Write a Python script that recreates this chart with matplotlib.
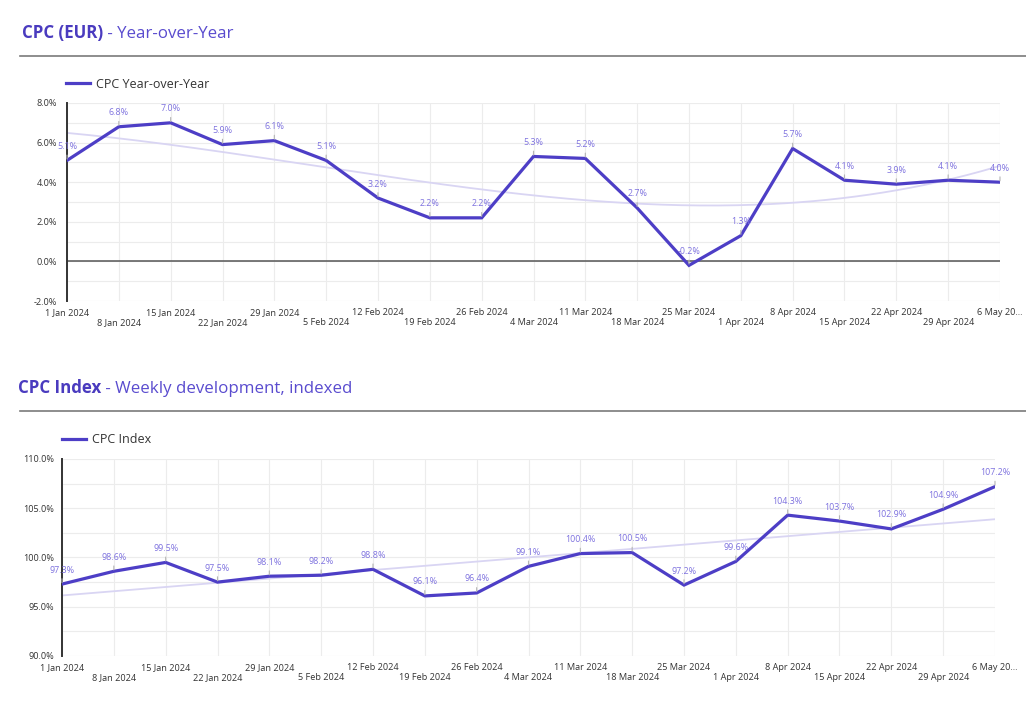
import numpy as np
import matplotlib.pyplot as plt
from matplotlib.lines import Line2D

plt.rcParams['font.family'] = ['Open Sans', 'DejaVu Sans']

# weekly dates
weeks = ['1 Jan 2024', '8 Jan 2024', '15 Jan 2024', '22 Jan 2024', '29 Jan 2024',
         '5 Feb 2024', '12 Feb 2024', '19 Feb 2024', '26 Feb 2024', '4 Mar 2024',
         '11 Mar 2024', '18 Mar 2024', '25 Mar 2024', '1 Apr 2024', '8 Apr 2024',
         '15 Apr 2024', '22 Apr 2024', '29 Apr 2024', '6 May 20...']

yoy = [5.1, 6.8, 7.0, 5.9, 6.1, 5.1, 3.2, 2.2, 2.2, 5.3, 5.2, 2.7, -0.2, 1.3, 5.7, 4.1, 3.9, 4.1, 4.0]
index = [97.3, 98.6, 99.5, 97.5, 98.1, 98.2, 98.8, 96.1, 96.4, 99.1, 100.4, 100.5, 97.2, 99.6,
         104.3, 103.7, 102.9, 104.9, 107.2]

W, H = 1026, 723
LINE = '#4d3ec6'
TREND = '#d9d5f3'
LABEL = '#7e72df'
GRID = '#ececec'

fig = plt.figure(figsize=(W / 100, H / 100), dpi=100)


def px_axes(left, top, right, bottom):
    return fig.add_axes([left / W, 1 - bottom / H, (right - left) / W, (bottom - top) / H])


def title(x, y, bold, rest):
    t1 = fig.text(x / W, 1 - y / H, bold, fontsize=12.2, fontweight='bold', color='#4a3bbf', va='baseline')
    fig.canvas.draw()
    bb = t1.get_window_extent()
    fig.text(bb.x1 / W, 1 - y / H, rest, fontsize=12.2, color='#5a4ccf', va='baseline')


def rule(y):
    fig.add_artist(Line2D([20 / W, 1.0], [1 - y / H, 1 - y / H], transform=fig.transFigure,
                          color='#7a7a7a', lw=1.2))


def draw(ax, vals, ylim, step, minor, lab, trend_deg, legend_xy, ypad):
    x = np.arange(len(vals))
    vals = np.array(vals)
    coef = np.polyfit(x, vals, trend_deg)
    xs = np.linspace(0, len(vals) - 1, 200)
    ax.plot(xs, np.polyval(coef, xs), color=TREND, lw=1.3, zorder=2)
    ax.plot(x, vals, color=LINE, lw=2.3, zorder=3, label=lab, solid_joinstyle='miter')
    for xi, v in zip(x, vals):
        ax.annotate(f'{v:.1f}%', xy=(xi, v), xytext=(0, 14), textcoords='offset pixels',
                    ha='center', va='center', fontsize=6.4, color=LABEL, zorder=4,
                    annotation_clip=False,
                    arrowprops=dict(arrowstyle='-', color='#b5b5b5', lw=0.8, shrinkA=1, shrinkB=1))
    ax.set_xlim(0, len(vals) - 1)
    ax.set_ylim(*ylim)
    ax.set_yticks(np.arange(ylim[0], ylim[1] + 0.01, step))
    ax.set_yticks(np.arange(ylim[0], ylim[1] + 0.01, minor), minor=True)
    ax.set_yticklabels([f'{t:.1f}%' for t in np.arange(ylim[0], ylim[1] + 0.01, step)])
    ax.set_xticks(x)
    ax.set_xticklabels([w if i % 2 == 0 else '\n' + w for i, w in enumerate(weeks)])
    ax.tick_params(axis='both', length=0, labelsize=6.6, labelcolor='#333333', which='both')
    ax.tick_params(axis='x', pad=5)
    ax.tick_params(axis='y', pad=ypad)
    ax.grid(True, which='both', color=GRID, lw=0.8)
    ax.set_axisbelow(True)
    for s in ['top', 'right', 'bottom']:
        ax.spines[s].set_visible(False)
    ax.spines['left'].set_color('#333333')
    ax.spines['left'].set_linewidth(1.4)
    ax.legend(loc='center left', bbox_to_anchor=(legend_xy[0] / W, 1 - legend_xy[1] / H),
              bbox_transform=fig.transFigure, frameon=False, fontsize=9, handlelength=1.9,
              handletextpad=0.5, borderpad=0, borderaxespad=0, labelcolor='#333333')


title(22, 38, 'CPC (EUR)', ' - Year-over-Year')
rule(55.5)
ax1 = px_axes(67, 103, 1000, 301)
draw(ax1, yoy, (-2, 8), 2, 1, 'CPC Year-over-Year', 3, (66, 84), 7)
ax1.axhline(0, color='#555555', lw=1.1, zorder=1)

title(18, 393, 'CPC Index', ' - Weekly development, indexed')
rule(410.5)
ax2 = px_axes(62, 459, 995, 656)
draw(ax2, index, (90, 110), 5, 2.5, 'CPC Index', 1, (62, 440), 5.5)

fig.savefig('out.png', dpi=100)
